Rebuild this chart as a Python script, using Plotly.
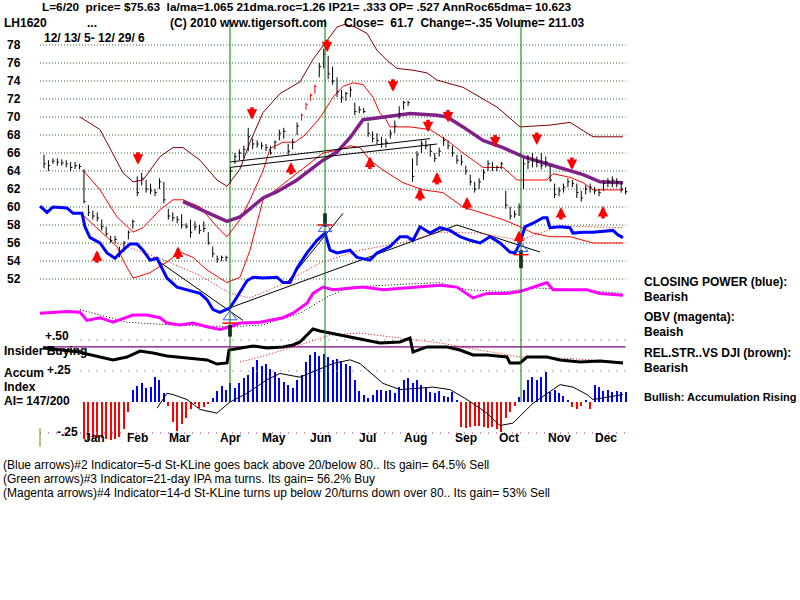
import plotly.graph_objects as go

# ---------------- DATA (x = bar index, one bar per two trading days) ----------------
bar_hi = [65.8, 65.2, 65.4, 65.4, 65.3, 65.2, 65.0, 65.0, 64.8, 64.2,
          60.2, 59.6, 59.4, 58.6, 57.8, 56.8, 56.8, 55.6, 56.2, 57.4,
          58.6, 63.4, 63.8, 63.0, 62.6, 62.0, 63.2, 62.8, 59.8, 59.4,
          59.0, 59.2, 58.2, 58.6, 58.4, 58.0, 58.4, 57.2, 55.6, 54.6,
          54.6, 54.6, 64.4, 66.0, 66.4, 66.8, 68.8, 67.6, 67.4, 67.2,
          67.0, 66.8, 67.4, 68.6, 68.8, 67.0, 67.6, 69.4, 70.4, 71.6,
          72.6, 73.6, 76.0, 77.6, 76.8, 75.6, 74.4, 73.0, 72.8, 73.4,
          71.6, 71.2, 71.0, 69.4, 68.4, 68.2, 67.8, 67.6, 68.6, 69.6,
          71.2, 71.8, 71.8, 65.4, 66.2, 67.4, 67.4, 67.0, 66.0, 66.6,
          67.8, 67.4, 66.8, 65.8, 65.8, 64.6, 63.6, 62.8, 63.2, 64.2,
          65.2, 65.0, 64.6, 65.0, 61.8, 60.0, 59.6, 60.4, 65.4, 65.8,
          66.0, 65.6, 66.0, 65.6, 64.6, 62.6, 62.2, 62.6, 63.2, 63.0,
          62.6, 61.8, 62.4, 62.6, 62.2, 62.0, 63.0, 63.2, 63.4, 63.2,
          62.8, 62.2]
bar_lo = [64.3, 64.0, 64.8, 64.6, 64.6, 64.4, 64.0, 64.2, 64.2, 60.4,
          59.0, 58.6, 58.4, 57.4, 56.8, 56.0, 56.0, 54.4, 55.0, 56.4,
          57.6, 61.2, 62.4, 61.6, 61.4, 61.2, 62.0, 60.4, 58.6, 58.4,
          58.2, 57.6, 57.6, 56.6, 57.4, 57.0, 57.2, 55.8, 54.4, 53.8,
          54.0, 54.0, 62.6, 64.8, 65.2, 65.4, 66.2, 66.4, 66.6, 66.4,
          66.2, 65.8, 66.4, 67.4, 67.6, 65.8, 66.4, 68.0, 69.6, 70.8,
          71.8, 72.6, 74.4, 75.4, 74.2, 73.6, 72.2, 71.6, 71.8, 72.2,
          70.2, 70.4, 70.4, 67.8, 67.2, 67.0, 66.6, 66.6, 67.6, 68.2,
          69.8, 70.8, 71.2, 62.8, 64.6, 66.0, 66.4, 65.6, 65.0, 65.6,
          66.8, 66.4, 65.6, 64.8, 64.6, 63.6, 62.4, 61.6, 62.0, 63.0,
          64.0, 64.0, 64.0, 64.2, 59.8, 58.6, 58.8, 59.0, 62.0, 64.2,
          64.4, 64.4, 64.2, 64.4, 62.8, 61.0, 61.2, 61.6, 62.2, 62.2,
          61.0, 60.6, 61.4, 61.6, 61.4, 61.2, 61.8, 62.2, 62.2, 62.2,
          61.6, 61.4]
bar_close = [64.8, 64.6, 65.1, 65.0, 64.9, 64.8, 64.4, 64.6, 64.5, 60.6,
             59.4, 59.0, 58.8, 57.8, 57.0, 56.3, 56.4, 55.0, 56.0, 57.2,
             58.4, 61.6, 63.2, 62.0, 61.8, 61.6, 62.8, 60.8, 59.0, 58.8,
             58.6, 58.0, 57.8, 57.2, 57.8, 57.4, 57.6, 56.0, 54.8, 54.2,
             54.4, 54.4, 64.0, 65.6, 66.0, 66.4, 67.8, 67.0, 67.0, 66.8,
             66.6, 66.0, 67.2, 68.2, 68.4, 66.2, 67.2, 69.0, 70.2, 71.4,
             72.4, 73.4, 75.6, 77.0, 74.8, 74.0, 72.8, 72.2, 72.6, 73.0,
             70.6, 70.8, 70.6, 68.2, 67.6, 67.4, 67.0, 67.2, 68.2, 69.0,
             70.4, 71.6, 71.6, 63.4, 65.8, 67.0, 66.8, 66.2, 65.4, 66.2,
             67.4, 66.8, 66.0, 65.2, 65.0, 64.0, 62.8, 62.0, 62.8, 63.8,
             64.8, 64.4, 64.4, 64.8, 60.2, 59.0, 59.2, 60.0, 64.8, 65.0,
             65.2, 65.0, 64.6, 65.0, 63.0, 61.4, 61.8, 62.2, 62.8, 62.6,
             61.6, 61.0, 62.0, 62.2, 61.8, 61.6, 62.6, 62.8, 63.0, 62.8,
             62.0, 61.7]
red_bar_idx = [58, 59, 60, 61]

price_ticks = [78, 76, 74, 72, 70, 68, 66, 64, 62, 60, 58, 56, 54, 52]
month_names = ["Jan", "Feb", "Mar", "Apr", "May", "Jun", "Jul", "Aug", "Sep", "Oct", "Nov", "Dec"]
month_pos = [8.56, 18.24, 27.7, 39.19, 48.65, 59.46, 70.5, 80.63, 92.12, 102.03, 113.06, 123.65]

# Closing power (blue), price-scale units
cp_x = [-0.9, 0.68, 2.03, 5.18, 6.53, 8.56, 9.23, 10.36, 12.61, 14.19, 15.99, 17.12, 19.37, 20.95,
        22.3, 23.87, 25.45, 26.8, 27.7, 29.95, 32.2, 35.14, 36.71, 38.06, 39.64, 41.89, 43.47,
        45.72, 47.07, 49.32, 52.48, 53.83, 55.41, 56.98, 59.23, 61.49, 63.29, 63.74, 64.41, 65.99,
        68.92, 70.5, 73.42, 75.0, 77.93, 80.18, 81.76, 83.11, 84.68, 86.94, 89.19, 91.44, 93.69,
        95.95, 98.2, 100.45, 102.7, 104.95, 106.08, 107.21, 108.33, 110.14, 112.39, 113.29, 113.96,
        116.22, 118.47, 119.14, 121.4, 123.65, 128.15, 129.28, 130.41]
cp_y = [60.1, 59.4, 60.0, 59.9, 59.3, 59.3, 57.8, 56.6, 56.0, 54.9, 54.3, 54.9, 55.9, 55.9,
        55.2, 54.1, 54.3, 53.0, 52.1, 51.1, 50.8, 50.4, 49.7, 48.6, 48.3, 48.8, 50.0,
        51.8, 52.2, 52.1, 52.2, 51.6, 51.6, 53.2, 54.9, 56.3, 57.1, 56.3, 55.2, 54.9,
        55.2, 54.4, 54.1, 54.9, 55.6, 56.7, 56.7, 56.3, 57.8, 57.1, 57.7, 57.4, 56.7,
        56.3, 56.0, 56.7, 56.0, 55.0, 54.9, 56.0, 57.8, 58.2, 58.8, 58.8, 57.7,
        57.8, 57.7, 57.1, 57.2, 57.2, 57.4, 56.9, 56.6]
# Closing power moving average (red dotted)
cpma_x = [16.44, 26.13, 35.14, 41.89, 46.4, 53.15, 62.16, 71.17, 80.18, 89.19, 98.2, 107.21, 116.22, 130.41]
cpma_y = [56.0, 54.3, 52.4, 50.4, 49.9, 51.3, 53.8, 55.2, 56.0, 57.2, 57.1, 56.3, 57.9, 57.7]

# OBV (magenta), price-scale units
obv_x = [-0.9, 5.18, 8.11, 9.68, 12.61, 15.54, 20.05, 23.2, 26.13, 27.7, 30.63, 33.56, 36.71, 39.64,
         41.89, 44.14, 48.65, 53.83, 56.08, 57.66, 59.23, 60.59, 62.84, 65.09, 71.85, 76.35, 82.43,
         89.19, 93.02, 96.62, 99.77, 104.28, 107.21, 110.14, 113.29, 114.64, 122.3, 125.23, 130.41]
obv_y = [48.2, 48.4, 48.3, 47.4, 47.7, 47.2, 48.0, 48.0, 47.7, 47.1, 46.9, 47.1, 46.7, 46.4,
         46.7, 47.1, 47.2, 47.7, 48.2, 48.8, 49.3, 50.4, 51.1, 50.8, 51.1, 50.8, 51.0,
         51.3, 51.1, 49.9, 50.4, 50.4, 50.6, 51.1, 51.6, 50.8, 50.8, 50.4, 50.2]
obvma_x = [8.11, 18.69, 28.38, 42.34, 49.32, 57.66, 63.74, 68.92, 80.18, 89.19, 95.27, 104.28, 110.14, 120.72, 130.41]
obvma_y = [48.6, 47.2, 46.9, 46.7, 46.9, 48.2, 50.0, 51.1, 51.4, 51.6, 50.8, 50.6, 51.0, 50.8, 50.4]

# Moving average (purple)
ma_x = [31.31, 35.14, 38.96, 41.22, 44.14, 46.4, 49.32, 52.48, 56.98, 62.84, 65.99, 68.92, 71.85,
        75.0, 79.5, 82.43, 88.51, 90.77, 94.37, 98.87, 103.38, 107.88, 113.96, 117.79, 121.4, 125.23, 130.41]
ma_y = [60.6, 59.7, 58.9, 58.4, 58.9, 59.8, 61.0, 61.7, 63.0, 65.2, 66.1, 67.7, 69.7,
        69.9, 70.2, 70.4, 70.2, 70.0, 68.9, 67.4, 66.6, 65.6, 64.7, 64.1, 63.6, 62.8, 62.7]

# Outer band (maroon)
outer_x = [8.11, 12.61, 17.79, 20.05, 22.3, 26.13, 29.05, 31.31, 35.14, 38.96, 41.22, 44.14, 46.4,
           49.32, 53.15, 57.66, 60.59, 63.29, 65.99, 67.79, 70.05, 72.75, 75.0, 77.25, 79.5, 83.11,
           86.26, 88.51, 94.37, 102.03, 107.21, 113.96, 118.47, 123.65, 130.41]
outer_y = [70.0, 68.6, 63.8, 62.8, 63.0, 65.6, 66.6, 66.6, 65.2, 63.0, 62.3, 64.2, 67.2,
           70.5, 72.6, 73.9, 76.4, 78.2, 80.0, 80.3, 80.0, 79.3, 77.4, 76.3, 75.4, 75.2,
           74.9, 74.1, 73.3, 71.1, 68.9, 69.1, 69.4, 67.8, 67.8]
# Upper band (red)
upper_x = [8.78, 12.61, 16.44, 20.05, 22.3, 26.13, 29.05, 31.31, 35.14, 38.96, 41.22, 44.14, 46.4,
           49.32, 50.9, 53.83, 56.53, 58.78, 62.16, 65.09, 67.34, 69.59, 71.85, 74.1, 75.68, 76.8,
           77.93, 82.43, 86.94, 90.77, 94.37, 98.87, 103.38, 106.53, 107.21, 113.29, 114.64, 118.47,
           121.4, 123.65, 130.41]
upper_y = [64.1, 61.9, 58.9, 57.2, 57.7, 59.7, 60.8, 60.8, 60.0, 57.8, 56.7, 58.6, 60.8,
           64.0, 66.5, 67.2, 67.2, 68.0, 69.9, 72.2, 73.4, 73.8, 73.6, 72.2, 70.4, 69.9,
           68.9, 68.9, 68.6, 67.4, 66.0, 64.4, 64.4, 63.0, 63.0, 63.0, 63.7, 63.3,
           62.7, 61.9, 61.9]
# Lower band (red)
lower_x = [8.78, 12.61, 16.44, 17.79, 20.05, 23.87, 27.7, 30.63, 33.56, 36.71, 41.22, 44.14, 46.4,
           49.32, 56.98, 60.59, 62.84, 65.99, 68.92, 71.17, 73.42, 76.35, 80.86, 85.36, 89.86,
           94.37, 98.87, 103.38, 107.21, 110.14, 113.96, 118.47, 123.65, 130.41]
lower_y = [59.1, 57.4, 55.6, 54.1, 52.1, 52.7, 53.9, 55.0, 54.4, 53.0, 51.6, 52.2, 55.2,
           60.8, 63.8, 65.2, 66.0, 66.3, 66.8, 66.6, 65.2, 64.1, 62.7, 61.9, 61.6,
           60.0, 59.3, 58.6, 57.8, 57.1, 56.7, 56.7, 56.0, 56.0]

# Trend lines (x0, y0, x1, y1) in price-scale units
trend_lines = [(24.55, 54.4, 44.82, 47.4), (41.89, 48.8, 93.02, 58.0), (54.73, 51.6, 67.34, 59.3),
               (93.02, 58.0, 111.71, 55.0), (41.89, 65.0, 86.94, 67.6), (41.89, 64.4, 88.51, 67.0)]

# Red arrows: sells (down) and buys (up); y = arrow tip
sell_x = [21.17, 46.85, 63.74, 78.6, 86.5, 91.0, 101.6, 111.0, 118.9]
sell_y = [64.7, 69.7, 77.2, 72.8, 68.3, 69.4, 66.6, 66.9, 64.1]
buy_x = [11.94, 30.18, 55.63, 73.42, 84.68, 88.51, 95.27, 106.98, 116.44, 125.9]
buy_y = [55.2, 55.6, 65.0, 65.6, 62.1, 63.9, 61.1, 57.4, 60.0, 60.1]

# Signal dates (green lines) and signal markers
signal_x = [41.89, 63.29, 107.43]
sigbar_hi = [46.9, 59.3, 55.2]
sigbar_lo = [45.6, 57.8, 53.2]
sig_level = [47.1, 58.0, 54.7]
sig_tri = [47.8, 57.6, 55.4]

# Accumulation Index, one value per bar from bar 9
ai_start = 9
ai_vals = [-0.30, -0.31, -0.30, -0.29, -0.29, -0.30, -0.31, -0.30, -0.28, -0.22,
           -0.08, 0.10, 0.13, 0.15, 0.11, 0.12, 0.20, 0.18, 0.07, -0.03,
           -0.16, -0.23, -0.18, -0.13, -0.06, -0.02, -0.05, -0.04, -0.01, 0.03,
           0.09, 0.13, 0.10, 0.15, 0.11, 0.15, 0.19, 0.22, 0.28, 0.34,
           0.29, 0.31, 0.27, 0.24, 0.19, 0.16, 0.14, 0.11, 0.18, 0.22,
           0.32, 0.38, 0.40, 0.37, 0.39, 0.36, 0.34, 0.35, 0.33, 0.31,
           0.29, 0.18, 0.09, 0.06, 0.03, 0.06, 0.10, 0.10, 0.09, 0.10,
           0.07, 0.12, 0.18, 0.19, 0.15, 0.18, 0.14, 0.12, 0.08, 0.07,
           0.09, 0.05, 0.04, 0.08, 0.01, -0.20, -0.21, -0.20, -0.19, -0.19,
           -0.20, -0.21, -0.20, -0.22, -0.24, -0.13, -0.08, -0.03, 0.04, 0.10,
           0.18, 0.20, 0.18, 0.20, 0.24, 0.08, 0.10, 0.07, 0.05, 0.01,
           -0.04, -0.06, -0.03, 0.02, -0.06, 0.14, 0.12, 0.09, 0.10, 0.08,
           0.09, 0.08, 0.08]
aima_x = [25.45, 27.7, 29.05, 32.2, 35.14, 38.96, 41.89, 45.72, 50.23, 53.15, 57.66, 61.49, 65.09,
          68.92, 71.17, 76.35, 80.18, 87.61, 91.44, 95.27, 99.77, 102.7, 105.63, 110.14, 113.29,
          116.22, 119.14, 122.3, 123.65, 130.41]
aima_y = [-0.05, 0.07, 0.06, 0.02, -0.06, -0.09, 0.0, 0.07, 0.18, 0.23, 0.20, 0.26, 0.31,
          0.34, 0.31, 0.15, 0.10, 0.12, 0.10, 0.02, -0.09, -0.19, -0.17, -0.01, 0.07,
          0.14, 0.12, 0.06, 0.02, 0.06]

# Insider buying line (AI-scale units)
ins_x = [-0.23, 8.11, 9.68, 12.61, 15.54, 18.69, 21.62, 24.55, 27.7, 32.2, 36.71, 38.96, 41.22,
         41.67, 44.14, 47.07, 50.23, 53.83, 56.08, 57.66, 59.23, 60.59, 62.16, 63.29, 66.67, 69.59,
         72.75, 75.68, 80.18, 82.43, 83.11, 86.26, 90.77, 93.69, 96.62, 99.77, 104.28, 104.95,
         107.21, 108.78, 113.29, 116.22, 120.72, 125.23, 130.41]
ins_y = [0.435, 0.403, 0.387, 0.363, 0.339, 0.363, 0.411, 0.395, 0.371, 0.355, 0.339, 0.306, 0.315,
         0.419, 0.435, 0.452, 0.435, 0.444, 0.460, 0.484, 0.540, 0.589, 0.573, 0.565, 0.540, 0.524,
         0.500, 0.476, 0.484, 0.516, 0.403, 0.444, 0.444, 0.419, 0.379, 0.379, 0.363, 0.315,
         0.315, 0.363, 0.363, 0.339, 0.323, 0.331, 0.315]
insma_x = [44.14, 48.65, 57.66, 64.41, 71.17, 80.18, 89.19, 98.2, 107.21, 116.22, 130.41]
insma_y = [0.323, 0.363, 0.460, 0.540, 0.556, 0.516, 0.476, 0.419, 0.363, 0.355, 0.323]
ins_ref = 0.444
ai_grid = [0.5, 0.25]

# ---------------- FIGURE ----------------
fig = go.Figure()
FONT = "Liberation Sans, Arial, sans-serif"


def add_line(xs, ys, color, width=1, dash="solid", yaxis="y"):
    fig.add_trace(go.Scatter(x=xs, y=ys, mode="lines", yaxis=yaxis, hoverinfo="skip",
                             line=dict(color=color, width=width, dash=dash)))


# price grid
gx, gy = [], []
for p in price_ticks:
    gx += [-0.9, 131.0, None]
    gy += [p, p, None]
add_line(gx, gy, "#2f6a2f", 1, "1px,2px")

# lower-panel grid
lx, ly = [], []
for a in ai_grid:
    lx += [8.2, 131.0, None]
    ly += [a, a, None]
add_line(lx, ly, "#8a8a8a", 1.5, "1px,7px", "y2")
add_line([-0.9, 131.0], [-0.25, -0.25], "#d06aa8", 1.5, "1px,7px", "y2")

# bands and moving average
add_line(outer_x, outer_y, "#800000", 1)
add_line(upper_x, upper_y, "#ff0000", 1)
add_line(lower_x, lower_y, "#ff0000", 1)
add_line(ma_x, ma_y, "#80208a", 3.5)

# trend lines
tx, ty = [], []
for x0, y0, x1, y1 in trend_lines:
    tx += [x0, x1, None]
    ty += [y0, y1, None]
add_line(tx, ty, "#000000", 1)

# price bars
bx, by, rx, ry = [], [], [], []
for i, (h, l, c) in enumerate(zip(bar_hi, bar_lo, bar_close)):
    xs = [i, i, None, i, i + 0.4, None]
    ys = [l, h, None, c, c, None]
    if i in red_bar_idx:
        rx += xs; ry += ys
    else:
        bx += xs; by += ys
add_line(bx, by, "#000000", 1)
add_line(rx, ry, "#ff0000", 1)

# indicator lines over price
add_line(cpma_x, cpma_y, "#ff0000", 1, "1px,2px")
add_line(obvma_x, obvma_y, "#000000", 1, "1px,2px")
add_line(cp_x, cp_y, "#0000ff", 3)
add_line(obv_x, obv_y, "#ff00ff", 3)

# signal markers
sx, sy = [], []
for x, h, l in zip(signal_x, sigbar_hi, sigbar_lo):
    sx += [x, x, None]
    sy += [l, h, None]
add_line(sx, sy, "#000000", 3.5)
hx, hy = [], []
for x, lv in zip(signal_x, sig_level):
    hx += [x - 1.7, x + 1.7, None]
    hy += [lv, lv, None]
add_line(hx, hy, "#ff0000", 1.5)
fig.add_trace(go.Scatter(x=signal_x, y=sig_tri, mode="markers", hoverinfo="skip",
                         marker=dict(symbol="triangle-up-open", size=12, color="#3050ff",
                                     line=dict(width=1, color="#3050ff"))))

# lower panel: accumulation index histogram
ai_x = list(range(ai_start, ai_start + len(ai_vals)))
fig.add_trace(go.Bar(x=ai_x, y=ai_vals, yaxis="y2", width=0.45, hoverinfo="skip",
                     marker=dict(color=["#0000ff" if v >= 0 else "#ff0000" for v in ai_vals],
                                 line=dict(width=0))))
add_line(aima_x, aima_y, "#000000", 1, yaxis="y2")
add_line([-0.23, 131.0], [ins_ref, ins_ref], "#800080", 1.2, yaxis="y2")
add_line(insma_x, insma_y, "#ff0000", 1, "1px,2px", "y2")
add_line(ins_x, ins_y, "#000000", 3, yaxis="y2")

# green signal lines
shapes = []
for x in signal_x:
    shapes.append(dict(type="line", xref="x", yref="paper", x0=x, x1=x,
                       y0=1 - 402 / 600, y1=1 - 19 / 600, line=dict(color="#008000", width=1)))
shapes.append(dict(type="line", xref="paper", yref="paper", x0=40 / 800, x1=40 / 800,
                   y0=1 - 447 / 600, y1=1 - 428 / 600, line=dict(color="#808000", width=1)))

annotations = []


def txt(px, py, s, size=12, bold=True, color="#000000"):
    annotations.append(dict(x=px / 800, y=1 - py / 600, xref="paper", yref="paper", text=s,
                            showarrow=False, xanchor="left", yanchor="middle",
                            font=dict(family=FONT, size=size, color=color,
                                      weight="bold" if bold else "normal")))


NB = "\u00a0"
txt(40, 7, "L=6/20 " + NB + "price= $75.63 " + NB + "la/ma=1.065 21dma.roc=1.26 IP21= .333 OP= .527 AnnRoc65dma= 10.623", size=11.8)
txt(2, 23, "LH1620")
txt(85, 23, "...")
txt(168, 23, "(C) 2010 www.tigersoft.com")
txt(342, 23, "Close= " + NB + "61.7 " + NB + "Change=-.35 Volume= 211.03")
txt(42, 38, "12/ 13/ 5- 12/ 29/ 6")

for p in price_ticks:
    annotations.append(dict(x=5 / 800, y=p, xref="paper", yref="y", text=str(p), showarrow=False,
                            xanchor="left", yanchor="middle",
                            font=dict(family=FONT, size=12, weight="bold", color="#000000")))

for py, px, lab in zip([336, 370, 432], [43, 45, 55], ["+.50", "+.25", "-.25"]):
    txt(px, py, lab)

txt(2, 351, "Insider Buying")
txt(2, 373, "Accum")
txt(2, 387, "Index")
txt(2, 401, "AI= 147/200")

for m, xm in zip(month_names, month_pos):
    annotations.append(dict(x=xm, y=-0.29, xref="x", yref="y2", text=m, showarrow=False,
                            xanchor="left", yanchor="middle",
                            font=dict(family=FONT, size=12, weight="bold", color="#000000")))

txt(642, 282, "CLOSING POWER (blue):")
txt(642, 297, "Bearish")
txt(642, 317, "OBV (magenta):")
txt(642, 332, "Beaish")
txt(642, 353, "REL.STR..VS DJI (brown):")
txt(642, 368, "Bearish")
txt(642, 397, "Bullish: Accumulation Rising", size=11)

txt(1, 465, "(Blue arrows)#2 Indicator=5-d St-KLine goes back above 20/below 80.. Its gain= 64.5% Sell", bold=False)
txt(1, 479, "(Green arrows)#3 Indicator=21-day IPA ma turns. Its gain= 56.2% Buy", bold=False)
txt(1, 493, "(Magenta arrows)#4 Indicator=14-d St-KLine turns up below 20/turns down over 80.. Its gain= 53% Sell", bold=False)

# red signal arrows
for x, y in zip(sell_x, sell_y):
    annotations.append(dict(x=x, y=y, xref="x", yref="y", ax=0, ay=-14, text="", showarrow=True,
                            arrowhead=2, arrowsize=0.6, arrowwidth=3.5, arrowcolor="#ff0000"))
for x, y in zip(buy_x, buy_y):
    annotations.append(dict(x=x, y=y, xref="x", yref="y", ax=0, ay=14, text="", showarrow=True,
                            arrowhead=2, arrowsize=0.6, arrowwidth=3.5, arrowcolor="#ff0000"))

fig.update_layout(
    width=800, height=600, margin=dict(l=0, r=0, t=0, b=0),
    paper_bgcolor="#ffffff", plot_bgcolor="#ffffff", showlegend=False,
    xaxis=dict(range=[-44 / 4.44, 756 / 4.44], visible=False, fixedrange=True),
    yaxis=dict(range=[16.3333, 83.0], visible=False, fixedrange=True),
    yaxis2=dict(range=[-198 / 124, 402 / 124], visible=False, overlaying="y", fixedrange=True),
    shapes=shapes, annotations=annotations, bargap=0,
)

fig.write_html("out.html", config={"displayModeBar": False})
